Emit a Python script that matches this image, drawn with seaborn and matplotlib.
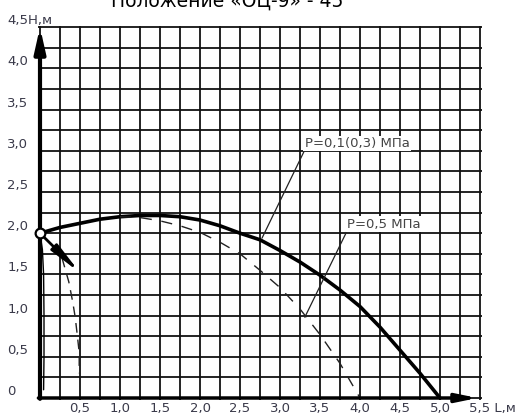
import matplotlib
matplotlib.use('Agg')
import matplotlib.pyplot as plt
import matplotlib.transforms as mtransforms
import seaborn as sns

# Траектория при P=0,1(0,3) МПа (сплошная)
x_p1 = [0.0, 0.25, 0.5, 0.75, 1.0, 1.25, 1.5, 1.75, 2.0, 2.25, 2.5, 2.75, 3.0, 3.25,
        3.5, 3.75, 4.0, 4.25, 4.5, 4.75, 5.0]
h_p1 = [2.0, 2.07, 2.12, 2.17, 2.2, 2.215, 2.215, 2.2, 2.16, 2.09, 2.0, 1.92, 1.79, 1.65,
        1.49, 1.31, 1.11, 0.86, 0.58, 0.3, 0.0]

# Траектория при P=0,5 МПа (штриховая)
x_p5 = [1.0, 1.25, 1.5, 1.75, 2.0, 2.25, 2.5, 2.75, 3.0, 3.25, 3.5, 3.75, 4.0]
h_p5 = [2.2, 2.19, 2.15, 2.09, 2.01, 1.89, 1.75, 1.55, 1.34, 1.08, 0.77, 0.42, 0.0]

# короткие струи у ствола
x_jet_solid = [0.0, 0.03, 0.045, 0.05, 0.05, 0.045]
h_jet_solid = [2.0, 1.8, 1.5, 1.0, 0.5, 0.1]
x_jet_dash = [0.275, 0.36, 0.41, 0.44, 0.47, 0.49, 0.49]
h_jet_dash = [1.7, 1.41, 1.16, 0.98, 0.73, 0.55, 0.3]

x_ticks = [0.5, 1.0, 1.5, 2.0, 2.5, 3.0, 3.5, 4.0, 4.5, 5.0, 5.5]
x_labels = ['0,5', '1,0', '1,5', '2,0', '2,5', '3,0', '3,5', '4,0', '4,5', '5,0', '5,5 L,м']
y_ticks = [0.0, 0.5, 1.0, 1.5, 2.0, 2.5, 3.0, 3.5, 4.0, 4.5]
y_labels = ['0', '0,5', '1,0', '1,5', '2,0', '2,5', '3,0', '3,5', '4,0', '4,5H,м']

sns.set_style('white')
plt.rcParams['font.family'] = ['DejaVu Sans']

fig = plt.figure(figsize=(5.25, 4.17), dpi=100)
W, H = 525, 417
# data -> pixels: x px = 40 + 80*x, y px (from top) = 398 - 82.4*h
xl, xr = -0.02, 5.52
yb, yt = -0.02, 4.52
left = 40 + 80 * xl
right = 40 + 80 * xr
top = 398 - 82.4 * yt
bottom = 398 - 82.4 * yb
ax = fig.add_axes([left / W, (H - bottom) / H, (right - left) / W, (bottom - top) / H])
ax.set_xlim(xl, xr)
ax.set_ylim(yb, yt)
for s in ax.spines.values():
    s.set_visible(False)

# сетка 0,25
ax.set_xticks([i * 0.25 for i in range(23)], minor=True)
ax.set_yticks([i * 0.25 for i in range(19)], minor=True)
ax.grid(which='both', color='#111111', lw=1.3)
ax.set_axisbelow(True)

ax.set_xticks(x_ticks, x_labels)
ax.set_yticks(y_ticks, y_labels)
ax.tick_params(which='both', length=0)
ax.tick_params(axis='x', pad=1.5, labelsize=9.5, labelcolor='#3a3a4a')
ax.tick_params(axis='y', pad=22.3, labelsize=9.5, labelcolor='#3a3a4a')
up = mtransforms.ScaledTranslation(0, 8 / 100, fig.dpi_scale_trans)
for lab in ax.get_yticklabels():
    lab.set_horizontalalignment('left')
    lab.set_transform(lab.get_transform() + up)
last = ax.get_xticklabels()[-1]
last.set_horizontalalignment('left')
last.set_transform(last.get_transform() + mtransforms.ScaledTranslation(-11 / 100, 0, fig.dpi_scale_trans))

# оси со стрелками
ax.annotate('', xy=(0, 4.5), xytext=(0, -0.01),
            arrowprops=dict(arrowstyle='-|>,head_length=2,head_width=0.45', mutation_scale=7.2,
                            lw=3, color='black', shrinkA=0, shrinkB=0), annotation_clip=False)
ax.annotate('', xy=(5.47, 0), xytext=(-0.02, 0),
            arrowprops=dict(arrowstyle='-|>,head_length=1.7,head_width=0.35', mutation_scale=7.2,
                            lw=2.5, color='black', shrinkA=0, shrinkB=0), annotation_clip=False)

sns.lineplot(x=x_p1, y=h_p1, ax=ax, color='black', lw=2.6, sort=False, estimator=None)
sns.lineplot(x=x_p5, y=h_p5, ax=ax, color='#222222', lw=1.0, sort=False, estimator=None,
             linestyle=(0, (8, 7)))
sns.lineplot(x=x_jet_dash, y=h_jet_dash, ax=ax, color='#222222', lw=1.0, sort=False, estimator=None,
             linestyle=(0, (7, 5)))
sns.lineplot(x=x_jet_solid, y=h_jet_solid, ax=ax, color='black', lw=1.0, sort=False, estimator=None)

# направление струи
ax.annotate('', xy=(0.5, 1.52), xytext=(0.0, 2.0),
            arrowprops=dict(arrowstyle='-|>,head_length=2.6,head_width=0.35', mutation_scale=7.2,
                            lw=2, color='black', shrinkA=0, shrinkB=0))
ax.plot([0.0], [2.0], marker='o', ms=7, mfc='white', mec='black', mew=1.6, zorder=5, clip_on=False)

# выноски
lbl = dict(fontsize=9.5, family=['DejaVu Sans'], color='#444444', va='center', ha='left',
           bbox=dict(boxstyle='square,pad=0.1', fc='white', ec='none'))
ax.annotate('P=0,1(0,3) МПа', xy=(2.775, 1.94), xytext=(3.31, 3.09),
            arrowprops=dict(arrowstyle='-', lw=0.9, color='#222222', shrinkA=0, shrinkB=0,
                            relpos=(0, 0)), **lbl)
ax.annotate('P=0,5 МПа', xy=(3.31, 0.98), xytext=(3.84, 2.11),
            arrowprops=dict(arrowstyle='-', lw=0.9, color='#222222', shrinkA=0, shrinkB=0,
                            relpos=(0, 0)), **lbl)

fig.text(227 / W, 1 - 7 / H, 'Положение «ОЦ-9» - 45', ha='center', va='baseline', fontsize=13.5,
         color='black')

fig.savefig('out.png', dpi=100)
